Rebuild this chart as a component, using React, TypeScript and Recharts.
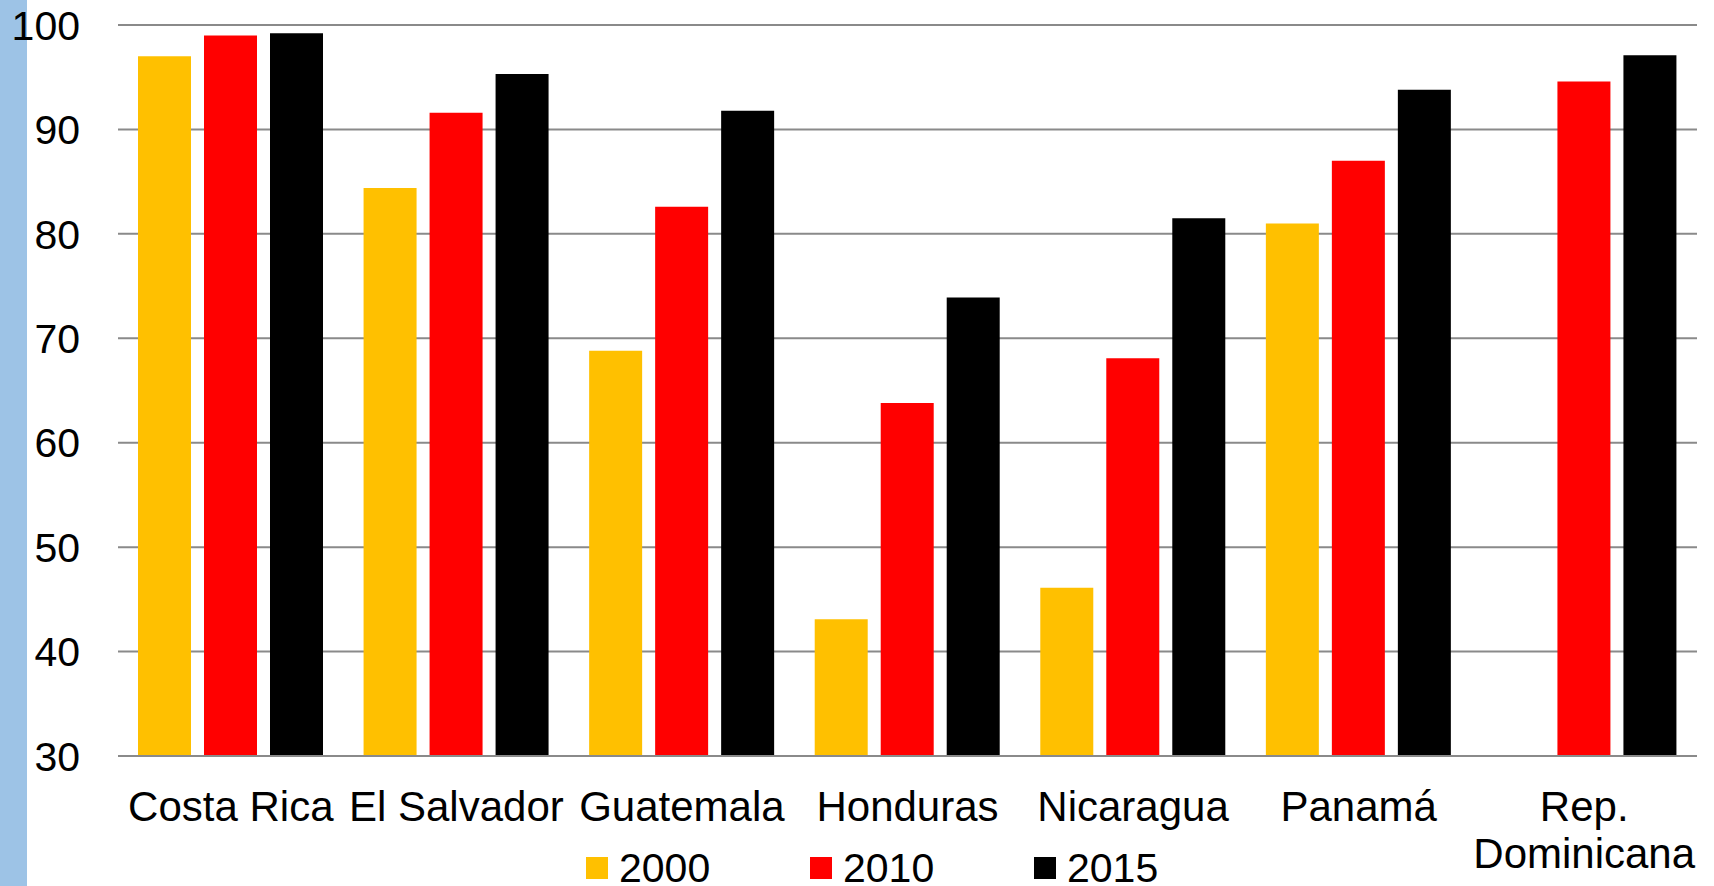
import React from 'react';
import { BarChart, Bar, XAxis, YAxis, CartesianGrid, Legend } from 'recharts';

const categories = ['Costa Rica', 'El Salvador', 'Guatemala', 'Honduras', 'Nicaragua', 'Panamá', 'Rep. Dominicana'];
const values2000: (number | null)[] = [97.0, 84.4, 68.8, 43.1, 46.1, 81.0, null];
const values2010 = [99.0, 91.6, 82.6, 63.8, 68.1, 87.0, 94.6];
const values2015 = [99.2, 95.3, 91.8, 73.9, 81.5, 93.8, 97.1];
const seriesNames = ['2000', '2010', '2015'];
const seriesColors = ['#FFC000', '#FF0000', '#000000'];
const yTicks = [30, 40, 50, 60, 70, 80, 90, 100];

const data = categories.map((c, i) => ({
  name: c,
  s2000: values2000[i],
  s2010: values2010[i],
  s2015: values2015[i],
}));

const FONT = '"Liberation Sans", Arial, sans-serif';

const XTick = (props: any) => {
  const { x, y, payload } = props;
  const v: string = payload.value;
  const lines = v.length > 12 ? [v.slice(0, v.indexOf(' ')), v.slice(v.indexOf(' ') + 1)] : [v];
  return (
    <g>
      {lines.map((l, i) => (
        <text key={i} x={x} y={y + 65 + i * 47} textAnchor="middle" fontFamily={FONT} fontSize={42} fill="#000">
          {l}
        </text>
      ))}
    </g>
  );
};

const YTick = (props: any) => {
  const { x, y, payload } = props;
  return (
    <text x={x} y={y + 14.7} textAnchor="end" fontFamily={FONT} fontSize={41} fill="#000">
      {payload.value}
    </text>
  );
};

const legendLefts = [586, 810, 1034];

const LegendContent = () => (
  <div style={{ position: 'relative', height: 36, width: '100%' }}>
    {seriesNames.map((n, i) => (
      <div
        key={n}
        style={{
          position: 'absolute',
          left: legendLefts[i],
          top: 0,
          height: 36,
          display: 'flex',
          alignItems: 'center',
          fontFamily: FONT,
          fontSize: 41,
          color: '#000',
          whiteSpace: 'nowrap',
        }}
      >
        <span style={{ display: 'inline-block', width: 22, height: 22, background: seriesColors[i], marginRight: 11 }} />
        <span style={{ lineHeight: '36px' }}>{n}</span>
      </div>
    ))}
  </div>
);

export default function App() {
  return (
    <div style={{ position: 'fixed', left: 0, top: 0, width: 1714, height: 886, background: '#fff', overflow: 'hidden' }}>
      <div style={{ position: 'absolute', left: 0, top: 0, width: 27, height: 886, background: '#9DC3E6' }} />
      <div style={{ position: 'absolute', left: 0, top: 0 }}>
        <BarChart
          width={1714}
          height={886}
          data={data}
          margin={{ top: 25, right: 17, bottom: 0, left: 0 }}
          barGap={13}
          barCategoryGap={20}
        >
          <CartesianGrid vertical={false} stroke="#8a8a8a" strokeWidth={2} />
          <XAxis
            dataKey="name"
            height={94}
            tickSize={0}
            tickMargin={0}
            axisLine={{ stroke: '#8a8a8a', strokeWidth: 2 }}
            tickLine={false}
            tick={<XTick />}
            interval={0}
          />
          <YAxis
            width={118}
            domain={[30, 100]}
            ticks={yTicks}
            tickSize={0}
            tickMargin={38}
            axisLine={false}
            tickLine={false}
            tick={<YTick />}
            allowDataOverflow
          />
          <Legend verticalAlign="bottom" align="left" content={<LegendContent />} wrapperStyle={{ height: 36 }} />
          <Bar dataKey="s2000" name="2000" fill={seriesColors[0]} isAnimationActive={false} />
          <Bar dataKey="s2010" name="2010" fill={seriesColors[1]} isAnimationActive={false} />
          <Bar dataKey="s2015" name="2015" fill={seriesColors[2]} isAnimationActive={false} />
        </BarChart>
      </div>
    </div>
  );
}
